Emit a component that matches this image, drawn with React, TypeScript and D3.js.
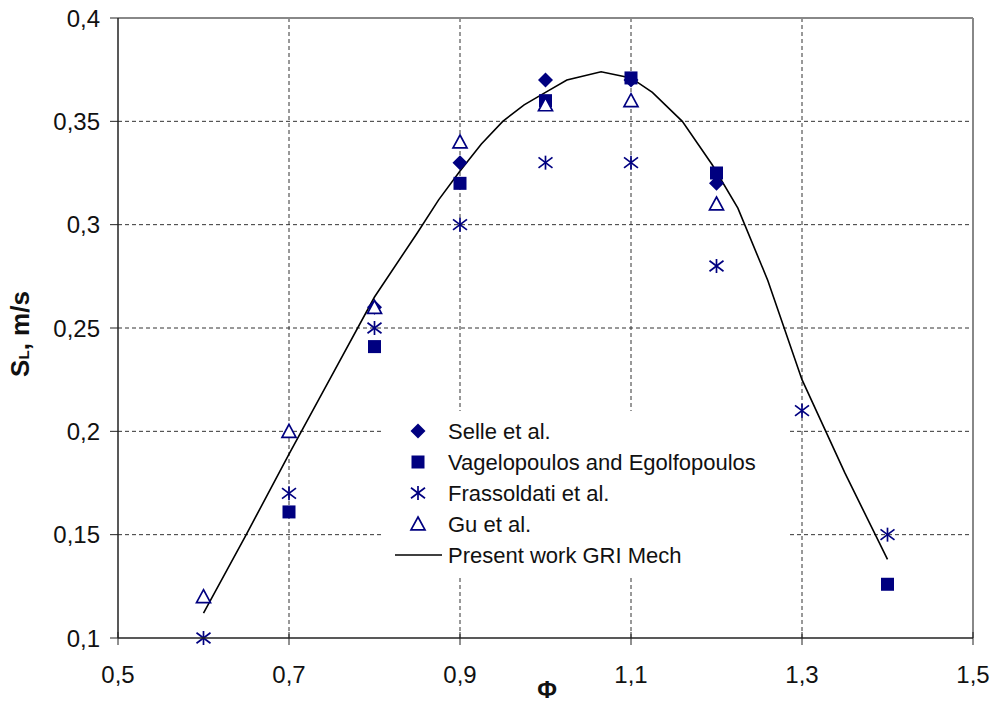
import React from "react";
import * as d3 from "d3";

const xTicks = [0.5, 0.7, 0.9, 1.1, 1.3, 1.5];
const yTicks = [0.1, 0.15, 0.2, 0.25, 0.3, 0.35, 0.4];

const selle: [number, number][] = [[0.8, 0.26], [0.9, 0.33], [1.0, 0.37], [1.1, 0.37], [1.2, 0.32]];
const vagelopoulos: [number, number][] = [[0.7, 0.161], [0.8, 0.241], [0.9, 0.32], [1.0, 0.36], [1.1, 0.371], [1.2, 0.325], [1.4, 0.126]];
const frassoldati: [number, number][] = [[0.6, 0.1], [0.7, 0.17], [0.8, 0.25], [0.9, 0.3], [1.0, 0.33], [1.1, 0.33], [1.2, 0.28], [1.3, 0.21], [1.4, 0.15]];
const gu: [number, number][] = [[0.6, 0.12], [0.7, 0.2], [0.8, 0.26], [0.9, 0.34], [1.0, 0.358], [1.1, 0.36], [1.2, 0.31]];
const gri: [number, number][] = [
  [0.6, 0.112], [0.65, 0.15], [0.7, 0.189], [0.75, 0.227], [0.8, 0.265], [0.85, 0.296], [0.875, 0.312],
  [0.9, 0.326], [0.925, 0.339], [0.95, 0.35], [0.975, 0.358], [1.0, 0.364], [1.025, 0.37], [1.065, 0.374],
  [1.1, 0.371], [1.125, 0.364], [1.16, 0.35], [1.195, 0.329], [1.225, 0.308], [1.26, 0.273], [1.3, 0.225],
  [1.35, 0.18], [1.4, 0.138],
];
const legendLabels = ["Selle et al.", "Vagelopoulos and Egolfopoulos", "Frassoldati et al.", "Gu et al.", "Present work GRI Mech"];

const NAVY = "#000080";
const FONT = "'Liberation Sans', Arial, sans-serif";

const fmt = (v: number) => String(v).replace(".", ",");

function Marker({ kind, x, y }: { kind: string; x: number; y: number }) {
  if (kind === "diamond") {
    const r = 7.5;
    return <path d={`M${x},${y - r}L${x + r},${y}L${x},${y + r}L${x - r},${y}Z`} fill={NAVY} />;
  }
  if (kind === "square") {
    const r = 6.5;
    return <rect x={x - r} y={y - r} width={2 * r} height={2 * r} fill={NAVY} />;
  }
  if (kind === "star") {
    const r = 7;
    return (
      <g stroke={NAVY} strokeWidth={1.7}>
        <line x1={x} y1={y - r} x2={x} y2={y + r} />
        <line x1={x - r} y1={y - r * 0.75} x2={x + r} y2={y + r * 0.75} />
        <line x1={x - r} y1={y + r * 0.75} x2={x + r} y2={y - r * 0.75} />
      </g>
    );
  }
  const r = 7;
  return <path d={`M${x},${y - r}L${x + r},${y + r * 0.85}L${x - r},${y + r * 0.85}Z`} fill="white" stroke={NAVY} strokeWidth={1.7} />;
}

export default function App() {
  const left = 118, right = 973, top = 18, bottom = 638;
  const x = d3.scaleLinear().domain([0.5, 1.5]).range([left, right]);
  const y = d3.scaleLinear().domain([0.1, 0.4]).range([bottom, top]);
  const line = d3.line<[number, number]>().x((d) => x(d[0])).y((d) => y(d[1]));

  const series: { kind: string; data: [number, number][] }[] = [
    { kind: "diamond", data: selle },
    { kind: "square", data: vagelopoulos },
    { kind: "star", data: frassoldati },
    { kind: "triangle", data: gu },
  ];

  const legX = 383, legY = 411;
  const rowY = [431, 462, 493, 524, 555];

  return (
    <svg width={995} height={704} style={{ position: "absolute", left: 0, top: 0, background: "white" }} fontFamily={FONT}>
      <rect width={995} height={704} fill="white" />
      {/* gridlines */}
      {yTicks.slice(1, -1).map((t) => (
        <line key={"gy" + t} x1={left} x2={right} y1={y(t)} y2={y(t)} stroke="#333" strokeWidth={1} strokeDasharray="4,3" />
      ))}
      {xTicks.slice(1, -1).map((t) => (
        <line key={"gx" + t} y1={top} y2={bottom} x1={x(t)} x2={x(t)} stroke="#333" strokeWidth={1} strokeDasharray="4,3" />
      ))}
      {/* border */}
      <line x1={left} x2={right} y1={top} y2={top} stroke="#888" strokeWidth={2} />
      <line x1={right} x2={right} y1={top} y2={bottom} stroke="#888" strokeWidth={2} />
      {/* legend background */}
      <rect x={legX} y={legY} width={405} height={164} fill="white" />
      {/* curve */}
      <path d={line(gri) || ""} fill="none" stroke="black" strokeWidth={1.6} />
      {/* markers */}
      {series.map((s) => (
        <g key={s.kind}>
          {s.data.map((d, i) => (
            <Marker key={i} kind={s.kind} x={x(d[0])} y={y(d[1])} />
          ))}
        </g>
      ))}
      {/* axes */}
      <line x1={left} x2={left} y1={top} y2={bottom} stroke="#222" strokeWidth={1.5} />
      <line x1={left} x2={right} y1={bottom} y2={bottom} stroke="#222" strokeWidth={1.5} />
      {yTicks.map((t) => (
        <g key={"ty" + t}>
          <line x1={left - 8} x2={left} y1={y(t)} y2={y(t)} stroke="#222" strokeWidth={1} />
          <text x={100} y={y(t)} dy="0.36em" textAnchor="end" fontSize={24} fill="#111">{fmt(t)}</text>
        </g>
      ))}
      {xTicks.map((t) => (
        <g key={"tx" + t}>
          <line x1={x(t)} x2={x(t)} y1={bottom - 6} y2={bottom + 7} stroke="#222" strokeWidth={1} />
          <text x={x(t)} y={674} dy="0.36em" textAnchor="middle" fontSize={24} fill="#111">{fmt(t)}</text>
        </g>
      ))}
      {/* axis titles */}
      <text x={547} y={698} textAnchor="middle" fontSize={24} fontWeight="bold" fill="#111">Φ</text>
      <text transform="translate(29,334) rotate(-90)" textAnchor="middle" fontSize={26} fontWeight="bold" fill="#111">
        S<tspan fontSize={15} dy={0}>L</tspan><tspan dy={0}>, m/s</tspan>
      </text>
      {/* legend */}
      {series.map((s, i) => (
        <Marker key={"lm" + i} kind={s.kind} x={418} y={rowY[i]} />
      ))}
      <line x1={395} x2={442} y1={rowY[4]} y2={rowY[4]} stroke="black" strokeWidth={1.6} />
      {legendLabels.map((l, i) => (
        <text key={"lt" + i} x={448} y={rowY[i]} dy="0.36em" fontSize={22} fill="#111">{l}</text>
      ))}
    </svg>
  );
}
